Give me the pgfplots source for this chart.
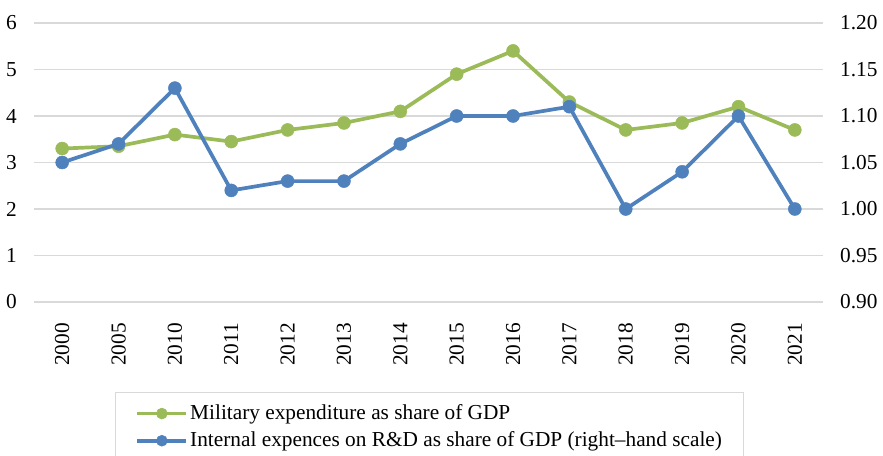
\documentclass[border=0pt]{standalone}
\usepackage{pgfplots}
\pgfplotsset{compat=1.18}
\usepackage{fontspec}
\setmainfont{Liberation Serif}
\definecolor{mgreen}{HTML}{9BBB59}
\definecolor{mblue}{HTML}{4F81BD}
\definecolor{gridc}{HTML}{D9D9D9}
\begin{document}
\fontsize{21}{25}\selectfont
\begin{tikzpicture}
\pgfplotsset{
  base/.style={
    scale only axis, width=789pt, height=279pt,
    xmin=-0.5, xmax=13.5,
    major tick length=0pt,
    axis line style={draw=none},
    /pgf/number format/assume math mode=true,
    tick label style={font=\fontsize{21.3}{25}\selectfont},
  },
  greenline/.style={color=mgreen, line width=3.7pt, mark=*, mark size=6.5pt,
    mark options={solid, line width=0.5pt, fill=mgreen, draw=mgreen}},
  blueline/.style={color=mblue, line width=3.7pt, mark=*, mark size=6.5pt,
    mark options={solid, line width=0.5pt, fill=mblue, draw=mblue}},
}
\begin{axis}[base, name=main,
  ymin=0, ymax=6, ytick={0,1,2,3,4,5,6},
  ymajorgrids, grid style={gridc, line width=1.3pt},
  xtick={0,...,13},
  xticklabels={2000,2005,2010,2011,2012,2013,2014,2015,2016,2017,2018,2019,2020,2021},
  xticklabel style={rotate=90, anchor=east, inner sep=0pt},
  xticklabel shift=21pt,
  yticklabel style={inner sep=0pt},
  yticklabel shift=17pt,
]
\addplot[greenline] coordinates {
 (0,3.30) (1,3.35) (2,3.60) (3,3.45) (4,3.70) (5,3.85) (6,4.10)
 (7,4.90) (8,5.40) (9,4.30) (10,3.70) (11,3.85) (12,4.20) (13,3.70)};
\end{axis}
\begin{axis}[base,
  ymin=0.9, ymax=1.2, ytick={0.90,0.95,1.00,1.05,1.10,1.15,1.20},
  axis y line*=right, axis x line=none,
  yticklabel style={/pgf/number format/fixed, /pgf/number format/fixed zerofill,
    /pgf/number format/precision=2, inner sep=0pt},
  yticklabel shift=17pt,
  legend cell align=left,
  legend style={at={(0.1027,-0.3226)}, anchor=north west, draw=gridc, line width=1pt,
    inner xsep=20pt, inner ysep=10pt, row sep=5pt,
    font=\fontsize{21.3}{25}\selectfont,
    /tikz/every even column/.append style={column sep=9pt}},
  legend image code/.code={
    \draw[mark repeat=2, mark phase=2, mark size=5.5pt, #1]
      plot coordinates {(0pt,0pt) (24.5pt,0pt) (49pt,0pt)};},
]
\addlegendimage{greenline}
\addlegendentry{Military expenditure as share of GDP}
\addplot[blueline] coordinates {
 (0,1.05) (1,1.07) (2,1.13) (3,1.02) (4,1.03) (5,1.03) (6,1.07)
 (7,1.10) (8,1.10) (9,1.11) (10,1.00) (11,1.04) (12,1.10) (13,1.00)};
\addlegendentry{Internal expences on R\&D as share of GDP (right–hand scale)}
\end{axis}
\pgfresetboundingbox
\path ([shift={(-34pt,-153pt)}]main.south west) rectangle ([shift={(60pt,23pt)}]main.north east);
\end{tikzpicture}
\end{document}
